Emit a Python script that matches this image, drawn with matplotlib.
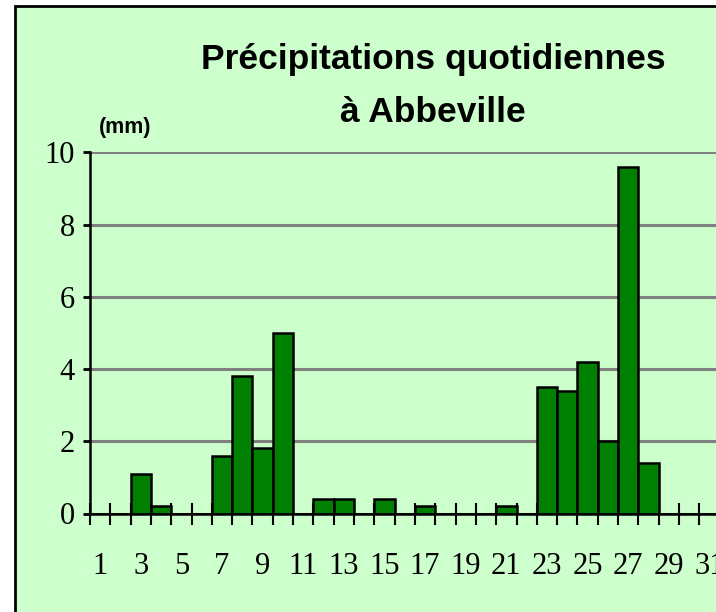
import matplotlib
matplotlib.use("Agg")
import matplotlib.pyplot as plt
from matplotlib.patches import Rectangle
import numpy as np

days = list(range(1, 32))
rain_mm = [0, 0, 1.1, 0.2, 0, 0, 1.6, 3.8, 1.8, 5.0,
           0, 0.4, 0.4, 0, 0.4, 0, 0.2, 0, 0, 0,
           0.2, 0, 3.5, 3.4, 4.2, 2.0, 9.6, 1.4, 0, 0, 0]
x_labels = [str(d) for d in range(1, 32, 2)]
y_ticks = [0, 2, 4, 6, 8, 10]
title = "Précipitations quotidiennes\nà Abbeville"
unit = "(mm)"

W, H = 716, 612
fig = plt.figure(figsize=(W / 100, H / 100), dpi=100, facecolor="white")

# chart area frame
frame = Rectangle((15 / W, -0.2), 1.5, (H - 6) / H + 0.2, transform=fig.transFigure,
                  facecolor="#CCFFCC", edgecolor="black", lw=2, zorder=-5)
fig.patches.append(frame)

left_px, right_px = 90, 90 + 31 * 20.31
top_px, bot_px = 152.3, 513.5
ax = fig.add_axes([left_px / W, (H - bot_px) / H, (right_px - left_px) / W, (bot_px - top_px) / H])
ax.set_facecolor("none")

ax.bar(days, rain_mm, width=1.0, color="#008000", edgecolor="black", linewidth=1.8, zorder=3)

ax.set_xlim(0.5, 31.5)
ax.set_ylim(0, 10)

ax.set_axisbelow(True)
ax.yaxis.grid(True, color="#808080", linewidth=2.2)
ax.xaxis.grid(False)

for s in ["top", "right"]:
    ax.spines[s].set_visible(False)
for s in ["left", "bottom"]:
    ax.spines[s].set_color("black")
    ax.spines[s].set_linewidth(1.8)
    ax.spines[s].set_zorder(4)

# x ticks at category boundaries, labels at odd days
ax.set_xticks(np.arange(0.5, 32, 1))
ax.set_xticklabels([])
ax.tick_params(axis="x", which="major", direction="inout", length=16, width=1.5, color="black")
ax.set_xticks(range(1, 32, 2), minor=True)
ax.set_xticklabels(x_labels, minor=True, fontfamily="Liberation Serif", fontsize=22)
ax.tick_params(axis="x", which="minor", length=0, pad=28)

ax.set_yticks(y_ticks)
ax.set_yticklabels([str(v) for v in y_ticks], fontfamily="Liberation Serif", fontsize=22)
ax.tick_params(axis="y", direction="out", length=5, width=2, color="black", pad=6)

fig.text(433 / W, 1 - 86 / H, title, ha="center", va="center", fontsize=25.5,
         fontweight="bold", family=["Liberation Sans Narrow", "Liberation Sans"],
         linespacing=1.75)
fig.text(125 / W, 1 - 127 / H, unit, ha="center", va="center", fontsize=15.5,
         fontweight="bold", family=["Liberation Sans Narrow", "Liberation Sans"])

fig.savefig("out.png", dpi=100)
